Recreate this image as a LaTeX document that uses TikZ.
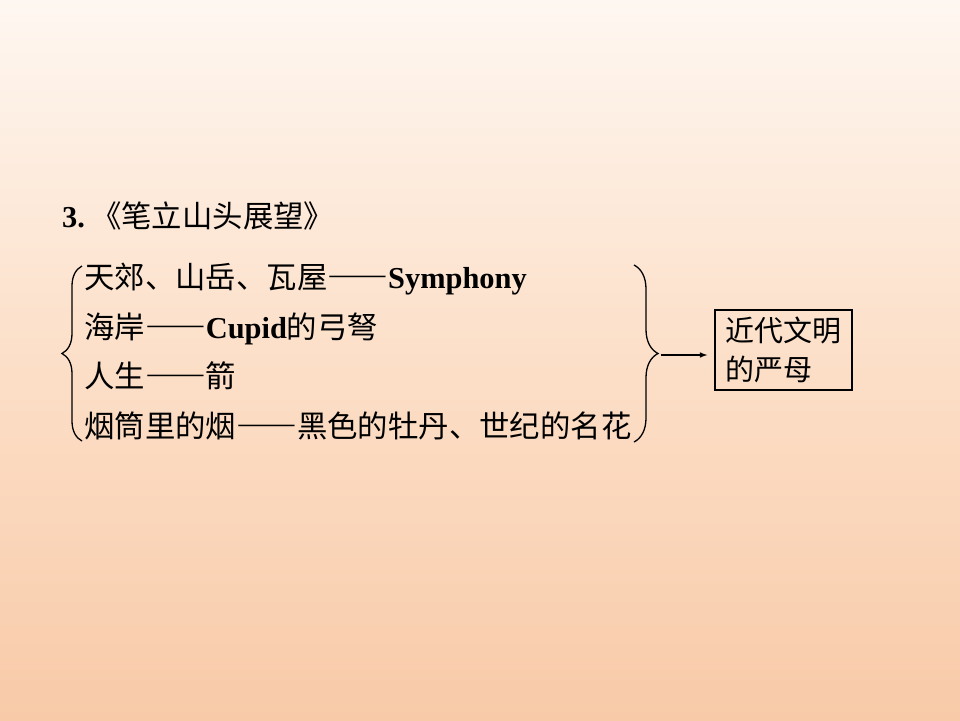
\documentclass[tikz,border=0pt]{standalone}
\usepackage{fontspec}
\setmainfont{Liberation Serif}
\newfontfamily\cjk[RawFeature=+fwid]{Noto Sans CJK SC}
\usetikzlibrary{decorations.pathreplacing}
\definecolor{bgtop}{RGB}{254,247,241}
\definecolor{bgmid}{RGB}{252,223,200}
\definecolor{bgbot}{RGB}{248,202,168}
\newcommand{\en}[1]{{\rmfamily\bfseries #1}}
\newcommand{\dd}{{\bfseries ——}}

\begin{document}
\begin{tikzpicture}[
    x=1pt, y=1pt,
    line/.style={
        anchor=base west,
        inner sep=0pt,
        font=\fontsize{30.4}{36}\selectfont\cjk
    },
    result/.style={
        rectangle,
        draw,
        line width=1.5pt,
        align=left,
        minimum width=137pt,
        minimum height=80pt,
        inner xsep=10pt,
        font=\fontsize{29}{39}\selectfont\cjk
    },
    curly/.style={
        decorate,
        line width=1.3pt,
        decoration={brace, amplitude=#1}
    },
    arrow/.style={
        -latex,
        line width=1.5pt
    }
]

\shade[top color=bgtop, bottom color=bgbot, middle color=bgmid] (0,0) rectangle (960,-720);
\useasboundingbox (0,0) rectangle (960,-720);

\node[line] (title) at (62,-227) {\en{3.}\kern6pt《笔立山头展望》};

\node[line] (l1) at (84,-288) {天郊、山岳、瓦屋\dd\en{Symphony}};
\node[line] (l2) at (84,-338) {海岸\dd\en{Cupid}的弓弩};
\node[line] (l3) at (84,-387) {人生\dd 箭};
\node[line] (l4) at (84,-437) {烟筒里的烟\dd 黑色的牡丹、世纪的名花};

\coordinate (lbt) at (82,-266);
\coordinate (lbb) at (82,-441);
\draw[curly=20pt] (lbb) -- (lbt);

\coordinate (rbt) at (634,-265);
\coordinate (rbb) at (634,-442);
\draw[curly=24pt] (rbt) -- (rbb);

\node[result] (res) at (783.5,-350) {近代文明\\的严母};

\coordinate (rtip) at (661,-355);
\draw[arrow, shorten >=7pt] (rtip) -- (rtip -| res.west);

\end{tikzpicture}
\end{document}
